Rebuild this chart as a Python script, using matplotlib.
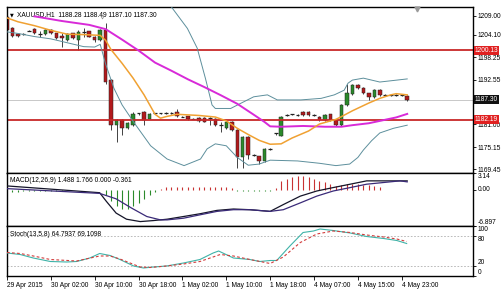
import matplotlib
matplotlib.use("Agg")
import matplotlib.pyplot as plt
from matplotlib.patches import Rectangle
import matplotlib.transforms as mtransforms

plt.rcParams['font.family'] = ['Liberation Sans', 'DejaVu Sans']

# ---------------- data ----------------
opens = [1208.7, 1205.9, 1204.2, 1204.2, 1205.1, 1205.5, 1204.4, 1204.2, 1205.3, 1204.4,
         1203.8, 1202.8, 1204.4, 1202.8, 1204.8, 1204.9, 1203.6, 1202.7, 1205.3, 1192.4,
         1180.8, 1182.1, 1180.1, 1180.8, 1183.8, 1184.1, 1182.5, 1183.8, 1183.9, 1184.0,
         1184.0, 1184.1, 1183.0, 1183.1, 1182.5, 1182.7, 1182.7, 1182.5, 1182.5, 1180.8,
         1180.0, 1181.7, 1179.5, 1172.7, 1177.8, 1173.1, 1172.9, 1171.6, 1174.7, 1178.7,
         1178.1, 1183.4, 1183.6, 1183.4, 1184.3, 1184.3, 1183.4, 1183.0, 1182.1, 1183.6,
         1182.1, 1180.8, 1186.0, 1188.7, 1191.1, 1190.3, 1189.0, 1188.1, 1189.8, 1188.55,
         1188.55, 1188.55, 1188.55, 1188.28]
highs = [1208.9, 1206.0, 1204.2, 1204.4, 1205.4, 1205.7, 1205.0, 1205.6, 1205.5, 1204.6,
         1204.4, 1204.4, 1204.6, 1205.3, 1205.7, 1205.1, 1203.8, 1205.5, 1207.0, 1192.6,
         1182.3, 1182.3, 1181.5, 1184.1, 1184.0, 1184.4, 1184.0, 1184.0, 1184.0, 1184.2,
         1184.2, 1184.9, 1183.2, 1183.2, 1182.7, 1182.8, 1182.8, 1182.8, 1182.6, 1181.7,
         1181.8, 1181.8, 1179.7, 1178.0, 1178.0, 1173.3, 1173.0, 1175.0, 1175.0, 1178.9,
         1183.2, 1183.7, 1183.8, 1183.6, 1184.5, 1184.5, 1183.6, 1183.2, 1183.6, 1183.8,
         1182.3, 1186.2, 1191.5, 1191.3, 1191.3, 1190.5, 1189.2, 1190.0, 1190.0, 1188.8,
         1188.8, 1188.8, 1188.8, 1188.49]
lows = [1201.4, 1203.6, 1203.6, 1204.0, 1204.9, 1204.2, 1203.6, 1204.0, 1204.2, 1202.9,
        1201.0, 1202.5, 1202.9, 1200.1, 1203.6, 1203.4, 1202.3, 1202.5, 1191.5, 1179.5,
        1176.5, 1178.3, 1179.8, 1180.6, 1183.5, 1180.8, 1182.3, 1183.6, 1183.6, 1183.8,
        1183.8, 1183.0, 1182.8, 1182.2, 1182.3, 1181.7, 1181.5, 1180.8, 1180.6, 1179.1,
        1179.8, 1179.3, 1169.7, 1169.7, 1172.2, 1172.8, 1170.7, 1171.4, 1174.4, 1178.4,
        1177.9, 1183.2, 1183.4, 1183.2, 1183.2, 1183.2, 1183.2, 1181.9, 1181.9, 1181.9,
        1180.6, 1180.6, 1185.8, 1188.5, 1190.1, 1188.8, 1187.3, 1187.9, 1188.4, 1188.3,
        1188.3, 1188.3, 1188.3, 1187.10]
closes = [1205.2, 1203.8, 1203.8, 1204.3, 1205.2, 1204.4, 1204.3, 1205.3, 1204.4, 1203.1,
          1203.1, 1204.2, 1203.1, 1204.8, 1204.9, 1203.6, 1202.7, 1205.3, 1192.0, 1180.8,
          1182.1, 1180.1, 1181.3, 1183.8, 1183.9, 1182.1, 1183.8, 1183.9, 1183.8, 1184.0,
          1184.0, 1183.1, 1183.0, 1182.4, 1182.5, 1181.9, 1181.7, 1182.6, 1180.8, 1180.9,
          1181.7, 1179.5, 1172.7, 1177.8, 1173.1, 1173.1, 1171.6, 1174.8, 1174.7, 1178.7,
          1183.0, 1183.4, 1183.6, 1183.4, 1183.4, 1183.4, 1183.4, 1182.1, 1183.4, 1182.1,
          1180.8, 1186.0, 1189.0, 1191.1, 1190.3, 1189.0, 1188.1, 1189.8, 1188.6, 1188.55,
          1188.55, 1188.55, 1188.55, 1187.30]

# indicator lines: (bar index, value) pairs
ma_fast_x = [0, 2, 5, 8, 11, 14, 17, 18, 19, 21, 23, 25, 27, 28, 29, 31, 35, 38, 40, 42, 44,
             46, 48, 50, 52, 55, 57, 60, 61, 63, 66, 68, 70, 71, 73]
ma_fast_y = [1208.4, 1207.4, 1206.4, 1205.2, 1204.2, 1204.1, 1203.9, 1202.6, 1200.2, 1196.7,
             1192.9, 1188.6, 1183.6, 1182.6, 1183.0, 1183.6, 1183.3, 1182.9, 1181.9, 1180.0,
             1178.4, 1176.9, 1175.9, 1176.0, 1177.5, 1179.3, 1181.1, 1182.3, 1183.0, 1184.5,
             1186.5, 1187.7, 1188.6, 1188.9, 1188.6]
ma_slow_x = [5, 10, 15, 18, 21, 24, 27, 30, 33, 36, 39, 42, 45, 47, 48, 50, 54, 58, 61, 63,
             66, 69, 71, 73]
ma_slow_y = [1208.8, 1207.6, 1206.6, 1205.5, 1202.8, 1200.0, 1196.9, 1194.8, 1192.6, 1190.6,
             1188.5, 1186.3, 1183.5, 1181.6, 1180.5, 1180.4, 1180.6, 1180.4, 1180.4, 1180.8,
             1181.3, 1182.2, 1182.8, 1183.7]
bb_up_x = [28, 30.1, 32.9, 34.7, 36.2, 37.4, 38, 40.8, 42.6, 45, 47.5, 49.3, 53.6, 57.3, 59.7,
           61.5, 62.2, 63, 65, 68, 73]
bb_up_y = [1216.0, 1211.0, 1205.7, 1200.6, 1192.8, 1186.0, 1185.1, 1185.1, 1186.4, 1188.1,
           1188.6, 1187.3, 1187.3, 1187.7, 1188.6, 1189.8, 1191.6, 1192.4, 1192.9, 1191.9,
           1192.7]
bb_lo_x = [0, 2, 5, 8, 11, 14, 16, 17, 18, 19.5, 21, 23.1, 26.2, 29.2, 32.3, 35.3, 36.5, 38,
           40, 42, 44, 46, 48, 53, 57, 60, 62.5, 64, 65, 66.5, 68, 70.5, 73]
bb_lo_y = [1204.8, 1204.4, 1203.6, 1203.0, 1202.0, 1201.0, 1200.9, 1201.6, 1196.5, 1190.3,
           1186.0, 1181.6, 1175.5, 1172.1, 1170.4, 1172.1, 1174.7, 1176.0, 1175.5, 1172.5,
           1170.5, 1170.8, 1171.8, 1171.6, 1171.0, 1170.4, 1170.8, 1172.5, 1174.4, 1176.8,
           1178.8, 1180.0, 1180.8]

macd_hist = [0.0, -0.4, -0.4, -0.3, -0.3, -0.2, -0.2, -0.2, -0.2, -0.2,
             -0.2, -0.15, -0.15, -0.1, 0.0, 0.0, 0.0, 0.0, -1.0, -2.2,
             -3.2, -3.6, -3.6, -3.2, -2.5, -1.8, -1.1, -0.5, 0.1, 0.4,
             0.5, 0.5, 0.5, 0.5, 0.5, 0.5, 0.5, 0.5, 0.5, 0.45, 0.4, 0.3,
             -0.2, -0.2, -0.2, -0.2, -0.2, -0.2, -0.2, 0.3,
             1.6, 2.0, 2.3, 2.5, 2.5, 2.3, 2.0, 1.7, 1.35, 1.0,
             0.7, 0.9, 1.0, 1.1, 1.0, 0.9, 0.8, 0.6, 0.4, 0.0,
             0.0, 0.0, 0.0, -0.1]
macd_main_x = [0, 16.9, 18.1, 19.9, 21.8, 24.3, 26.7, 29.2, 32.2, 35.2, 38.3, 41.3, 44.3, 48,
               50.4, 53.5, 56.5, 59.5, 62.6, 65.6, 68.7, 73]
macd_main_y = [0.69, -0.59, -2.20, -4.45, -5.61, -6.06, -5.87, -5.61, -5.10, -4.58, -3.94,
               -3.68, -3.81, -4.13, -2.84, -1.24, -0.27, 0.38, 1.02, 1.65, 1.65, 1.65]
macd_sig_x = [0, 16.9, 19.9, 22.7, 25.5, 28.0, 29.2, 32.2, 35.2, 38.3, 41.3, 44.3, 48, 50.4,
              53.5, 56.5, 59.5, 62.6, 65.6, 68.7, 71.7, 73]
macd_sig_y = [0.18, -0.72, -1.75, -3.49, -5.10, -5.74, -5.74, -5.42, -4.78, -4.13, -3.81,
              -3.81, -4.13, -3.81, -2.52, -1.24, -0.27, 0.38, 1.02, 1.34, 1.65, 1.46]

stoch_k_x = [0, 2.4, 4.8, 7.9, 10.9, 12.7, 15.1, 16.9, 18.8, 20.6, 23.1, 24.9, 26.7, 29.1,
             32.2, 35.2, 37.6, 38.6, 41.3, 44.3, 46.1, 48.0, 49.2, 51.6, 54.0, 55.9, 57.1,
             59.5, 62.6, 65.6, 68.7, 71.1, 72.9]
stoch_k_y = [46, 43, 36, 29, 28, 29, 36, 45, 41, 33, 20, 16, 18, 20, 26, 33, 46, 50, 36, 33,
             29, 31, 31, 60, 87, 90, 94, 91, 86, 79, 75, 71, 65]
stoch_d_x = [0, 2.4, 4.8, 7.9, 12.7, 16.9, 18.8, 20.6, 24.3, 26.1, 29.1, 32.2, 35.2, 38.9,
             41.3, 44.3, 48.0, 50.4, 53.5, 56.5, 59.5, 62.6, 65.6, 68.7, 71.1, 72.9]
stoch_d_y = [47, 45, 40, 33, 30, 40, 40, 34, 18, 17, 20, 24, 29, 43, 40, 33, 25, 38, 67, 84,
             90, 87, 82, 78, 74, 69]

time_ticks = [0, 8, 16, 24, 32, 40, 48, 56, 64, 72]
time_labels = ["29 Apr 2015", "30 Apr 02:00", "30 Apr 10:00", "30 Apr 18:00", "1 May 02:00",
               "1 May 10:00", "1 May 18:00", "4 May 07:00", "4 May 15:00", "4 May 23:00"]
price_ticks = [1209.00, 1204.10, 1198.25, 1192.55, 1181.00, 1175.15, 1169.45]
level_lines = [1200.13, 1182.19]
last_price = 1187.30
macd_ticks = [3.14, 0.00, -6.897]
stoch_ticks = [100, 80, 20, 0]

title_main = "XAUUSD,H1  1188.28 1188.49 1187.10 1187.30"
title_macd = "MACD(12,26,9) 1.488 1.766 0.000 -0.361"
title_stoch = "Stoch(13,5,8) 64.7937 69.1098"

# ---------------- layout ----------------
W, H = 503, 293
fig = plt.figure(figsize=(W / 100, H / 100), dpi=100)
fig.patch.set_facecolor('white')


def rect(x0, x1, yt, yb):
    return [x0 / W, (H - yb) / H, (x1 - x0) / W, (yb - yt) / H]


ax = fig.add_axes(rect(7, 473, 7, 173))
axm = fig.add_axes(rect(7, 473, 173, 226))
axs = fig.add_axes(rect(7, 473, 226, 276))

XMIN, XMAX = 0.0, 85.0
FS = 4.8

for a in (ax, axm, axs):
    a.set_xlim(XMIN, XMAX)
    for s in a.spines.values():
        s.set_color('black')
        s.set_linewidth(1.0)
    a.yaxis.tick_right()
    a.tick_params(axis='y', direction='out', length=2, width=0.6, labelsize=FS, pad=1.5,
                  colors='black')
    a.tick_params(axis='x', bottom=False, labelbottom=False)

# ---------------- main panel ----------------
ax.set_ylim(1168.5, 1211.2)
ax.set_yticks(price_ticks)
ax.set_yticklabels([f"{v:.2f}" for v in price_ticks])

RED = '#b3191c'
GREEN = '#2b8a2b'
EDGE = '#222222'
for i, (o, h, l, c) in enumerate(zip(opens, highs, lows, closes)):
    ax.vlines(i, l, h, color=EDGE, lw=0.6, zorder=2)
    if abs(c - o) < 0.15:
        ax.hlines((o + c) / 2, i - 0.35, i + 0.35, color=EDGE, lw=0.9, zorder=2.2)
    else:
        col = GREEN if c > o else RED
        ax.add_patch(Rectangle((i - 0.32, min(o, c)), 0.64, abs(c - o), facecolor=col,
                               edgecolor=EDGE, lw=0.35, zorder=2.1))

ax.axhline(last_price, color='#c8c8c8', lw=0.7, zorder=1)
for lv in level_lines:
    ax.axhline(lv, color='#c82828', lw=1.3, zorder=2.5)

ax.plot(bb_up_x, bb_up_y, color='#5d8f9c', lw=0.7, zorder=3)
ax.plot(bb_lo_x, bb_lo_y, color='#5d8f9c', lw=0.7, zorder=3)
ax.plot(ma_fast_x, ma_fast_y, color='#f0a132', lw=1.1, zorder=3.2)
ax.plot(ma_slow_x, ma_slow_y, color='#d82ad8', lw=1.4, zorder=3.1)

trans = mtransforms.blended_transform_factory(ax.transAxes, ax.transData)
for lv in level_lines:
    ax.text(1.004, lv, f"{lv:.2f}", transform=trans, ha='left', va='center', fontsize=FS,
            color='white', zorder=10, clip_on=False,
            bbox=dict(boxstyle='square,pad=0.15', facecolor='#e02020', edgecolor='none'))
ax.text(1.004, last_price, f"{last_price:.2f}", transform=trans, ha='left', va='center',
        fontsize=FS, color='white', zorder=10, clip_on=False,
        bbox=dict(boxstyle='square,pad=0.15', facecolor='#111111', edgecolor='none'))

ax.text(0.006, 0.955, "\u25bc", transform=ax.transAxes, fontsize=3.5, color='black',
        ha='left', va='center', family=['DejaVu Sans'])
ax.text(0.022, 0.955, title_main, transform=ax.transAxes, fontsize=FS, color='black',
        ha='left', va='center')
ax.plot([17.3], [1208.5], marker='v', color='#8a8a8a', ms=2.2, mfc='none', mew=0.5,
        zorder=5)
ax.plot([74.8], [1210.6], marker='v', color='#9a9a9a', ms=3.5, clip_on=False, zorder=5)

# ---------------- MACD panel ----------------
axm.set_ylim(-6.897, 3.14)
axm.set_yticks(macd_ticks)
axm.set_yticklabels(["3.14", "0.00", "-6.897"])
for lbl, va in zip(axm.get_yticklabels(), ['top', 'center', 'bottom']):
    lbl.set_va(va)
for i, v in enumerate(macd_hist):
    if v == 0:
        continue
    axm.vlines(i, 0, v, color=(GREEN if v < 0 else '#c83232'), lw=0.8, zorder=2)
axm.plot(macd_main_x, macd_main_y, color='#141428', lw=0.9, zorder=3)
axm.plot(macd_sig_x, macd_sig_y, color='#3a2a78', lw=0.9, zorder=3)
axm.text(0.006, 0.86, title_macd, transform=axm.transAxes, fontsize=FS, color='black',
         ha='left', va='center')

# ---------------- Stochastic panel ----------------
axs.set_ylim(0, 100)
axs.set_yticks(stoch_ticks)
axs.set_yticklabels([str(v) for v in stoch_ticks])
for lbl, va in zip(axs.get_yticklabels(), ['top', 'top', 'bottom', 'bottom']):
    lbl.set_va(va)
for lv in (80, 20):
    axs.axhline(lv, color='#b0b0b0', lw=0.6, ls=(0, (2, 2)), zorder=1)
axs.plot(stoch_k_x, stoch_k_y, color='#3fb3a8', lw=0.8, zorder=3)
axs.plot(stoch_d_x, stoch_d_y, color='#d23c3c', lw=0.8, ls=(0, (2.5, 2)), zorder=3)
axs.text(0.006, 0.84, title_stoch, transform=axs.transAxes, fontsize=FS, color='black',
         ha='left', va='center')

# time axis
axs.set_xticks(time_ticks)
axs.set_xticklabels(time_labels)
axs.tick_params(axis='x', bottom=True, labelbottom=True, direction='out', length=3,
                width=0.6, labelsize=FS, pad=1)
for lbl in axs.get_xticklabels():
    lbl.set_ha('left')

fig.savefig("out.png", dpi=100, facecolor='white')
